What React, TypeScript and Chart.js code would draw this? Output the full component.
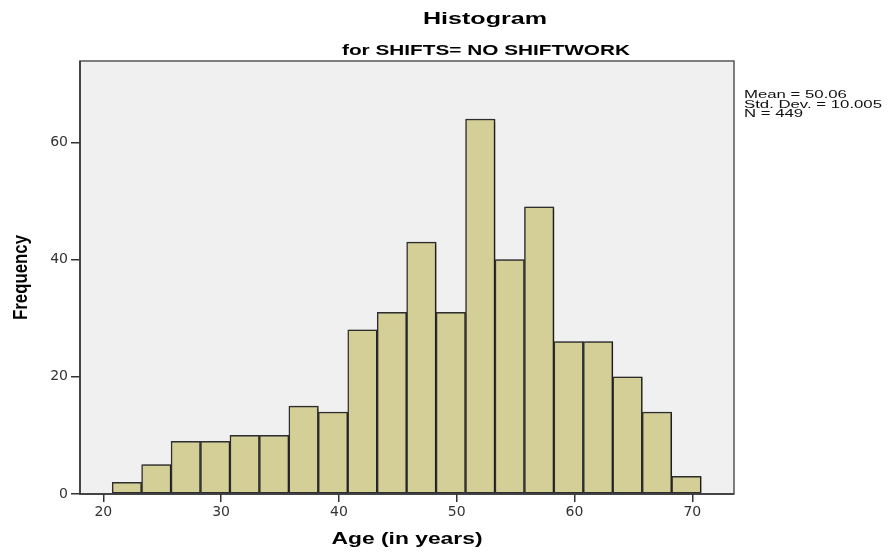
import React, { useEffect, useRef } from "react";
import { Chart, registerables } from "chart.js";

Chart.register(...registerables);

// Bin centres (years) and frequencies
const binCenters = [22, 24.5, 27, 29.5, 32, 34.5, 37, 39.5, 42, 44.5, 47, 49.5, 52, 54.5, 57, 59.5, 62, 64.5, 67, 69.5];
const frequencies = [2, 5, 9, 9, 10, 10, 15, 14, 28, 31, 43, 31, 64, 40, 49, 26, 26, 20, 14, 3];
const xTicks = [20, 30, 40, 50, 60, 70];
const yTicks = [0, 20, 40, 60];
const titleText = "Histogram";
const subtitleText = "for SHIFTS= NO SHIFTWORK";
const xTitle = "Age (in years)";
const yTitle = "Frequency";
const statsLines = ["Mean = 50.06", "Std. Dev. = 10.005", "N = 449"];

const FONT = "'Liberation Sans', Arial, sans-serif";

function drawStretched(ctx: CanvasRenderingContext2D, text: string, x: number, y: number, font: string, targetWidth: number, align: CanvasTextAlign) {
  ctx.save();
  ctx.font = font;
  const w = ctx.measureText(text).width;
  const sx = targetWidth / w;
  ctx.translate(x, y);
  ctx.scale(sx, 1);
  ctx.textAlign = align;
  ctx.textBaseline = "alphabetic";
  ctx.fillText(text, 0, 0);
  ctx.restore();
}

const framePlugin = {
  id: "framePlugin",
  beforeDraw(chart: any) {
    const { ctx, chartArea } = chart;
    ctx.save();
    ctx.fillStyle = "#ffffff";
    ctx.fillRect(0, 0, chart.width, chart.height);
    ctx.fillStyle = "#f0f0f0";
    ctx.fillRect(chartArea.left, chartArea.top, chartArea.right - chartArea.left, chartArea.bottom - chartArea.top);
    ctx.restore();
  },
  beforeDatasetsDraw(chart: any) {
    const ctx = chart.ctx;
    ctx.save();
    ctx.shadowColor = "rgba(0,0,0,0.35)";
    ctx.shadowOffsetX = 2;
    ctx.shadowOffsetY = 0;
    ctx.shadowBlur = 1;
  },
  afterDatasetsDraw(chart: any) {
    const ctx = chart.ctx;
    ctx.restore();
    const { chartArea } = chart;
    ctx.save();
    ctx.strokeStyle = "#555555";
    ctx.lineWidth = 1.5;
    ctx.strokeRect(chartArea.left, chartArea.top, chartArea.right - chartArea.left, chartArea.bottom - chartArea.top);
    ctx.strokeStyle = "#333333";
    ctx.beginPath();
    ctx.moveTo(chartArea.left, chartArea.top);
    ctx.lineTo(chartArea.left, chartArea.bottom);
    ctx.lineTo(chartArea.right, chartArea.bottom);
    ctx.stroke();
    ctx.restore();
  },
  afterDraw(chart: any) {
    const ctx: CanvasRenderingContext2D = chart.ctx;
    ctx.save();
    ctx.fillStyle = "#000000";
    drawStretched(ctx, titleText, 485, 23.5, `bold 16px ${FONT}`, 124, "center");
    drawStretched(ctx, subtitleText, 486, 54.5, `bold 15px ${FONT}`, 288, "center");
    drawStretched(ctx, xTitle, 407, 543.5, `bold 16px ${FONT}`, 151, "center");

    // stats block
    ctx.font = `11px ${FONT}`;
    const widest = Math.max(...statsLines.map((s) => ctx.measureText(s).width));
    const sx = 138 / widest;
    const baselines = [98.3, 107.6, 116.8];
    statsLines.forEach((s, i) => {
      ctx.save();
      ctx.translate(744, baselines[i]);
      ctx.scale(sx, 1);
      ctx.textAlign = "left";
      ctx.textBaseline = "alphabetic";
      ctx.fillStyle = "#111111";
      ctx.font = `11px ${FONT}`;
      ctx.fillText(s, 0, 0);
      ctx.restore();
    });

    // rotated y title
    ctx.save();
    ctx.font = `bold 16px ${FONT}`;
    const w = ctx.measureText(yTitle).width;
    const f = (16 * 85) / w;
    ctx.translate(22, 277.5);
    ctx.scale(1.15, 1);
    ctx.rotate(-Math.PI / 2);
    ctx.font = `bold ${f}px ${FONT}`;
    ctx.textAlign = "center";
    ctx.textBaseline = "middle";
    ctx.fillStyle = "#000000";
    ctx.fillText(yTitle, 0, 0);
    ctx.restore();

    ctx.restore();
  },
};

export default function App() {
  const canvasRef = useRef<HTMLCanvasElement | null>(null);

  useEffect(() => {
    if (!canvasRef.current) return;
    const chart = new Chart(canvasRef.current, {
      type: "bar",
      data: {
        datasets: [
          {
            data: binCenters.map((x, i) => ({ x, y: frequencies[i] })),
            backgroundColor: "#d3cf97",
            borderColor: "#2e2e2e",
            borderWidth: 1.5,
            borderSkipped: false,
            barPercentage: 1,
            categoryPercentage: 1,
            grouped: false,
          } as any,
        ],
      },
      options: {
        animation: false,
        responsive: false,
        devicePixelRatio: 1,
        layout: { padding: { left: 0, top: 61, right: 158, bottom: 0 } },
        plugins: {
          legend: { display: false },
          tooltip: { enabled: false },
          title: { display: false },
        },
        scales: {
          x: {
            type: "linear",
            min: 18.02,
            max: 73.54,
            offset: false,
            afterFit: (axis: any) => {
              axis.height = 58;
            },
            afterBuildTicks: (axis: any) => {
              axis.ticks = xTicks.map((v) => ({ value: v }));
            },
            ticks: {
              stepSize: 10,
              includeBounds: false,
              autoSkip: false,
              maxRotation: 0,
              padding: 2,
              color: "#333333",
              font: { family: "'DejaVu Sans', sans-serif", size: 14 },
            },
            grid: { display: true, offset: false, drawOnChartArea: false, drawTicks: true, tickLength: 8, color: "#333333", lineWidth: 1.5 },
            border: { display: false },
            title: { display: false },
          } as any,
          y: {
            type: "linear",
            min: 0,
            max: 73.9,
            afterFit: (axis: any) => {
              axis.width = 80;
            },
            afterBuildTicks: (axis: any) => {
              axis.ticks = yTicks.map((v) => ({ value: v }));
            },
            ticks: {
              stepSize: 20,
              includeBounds: false,
              padding: 3,
              color: "#333333",
              font: { family: "'DejaVu Sans', sans-serif", size: 14 },
            },
            grid: { display: true, offset: false, drawOnChartArea: false, drawTicks: true, tickLength: 9, color: "#333333", lineWidth: 1.5 },
            border: { display: false },
            title: { display: false },
          } as any,
        },
      },
      plugins: [framePlugin],
    });
    return () => chart.destroy();
  }, []);

  return (
    <div style={{ position: "absolute", left: 0, top: 0, width: 892, height: 552, background: "#fff" }}>
      <canvas ref={canvasRef} width={892} height={552} style={{ display: "block" }} />
    </div>
  );
}
